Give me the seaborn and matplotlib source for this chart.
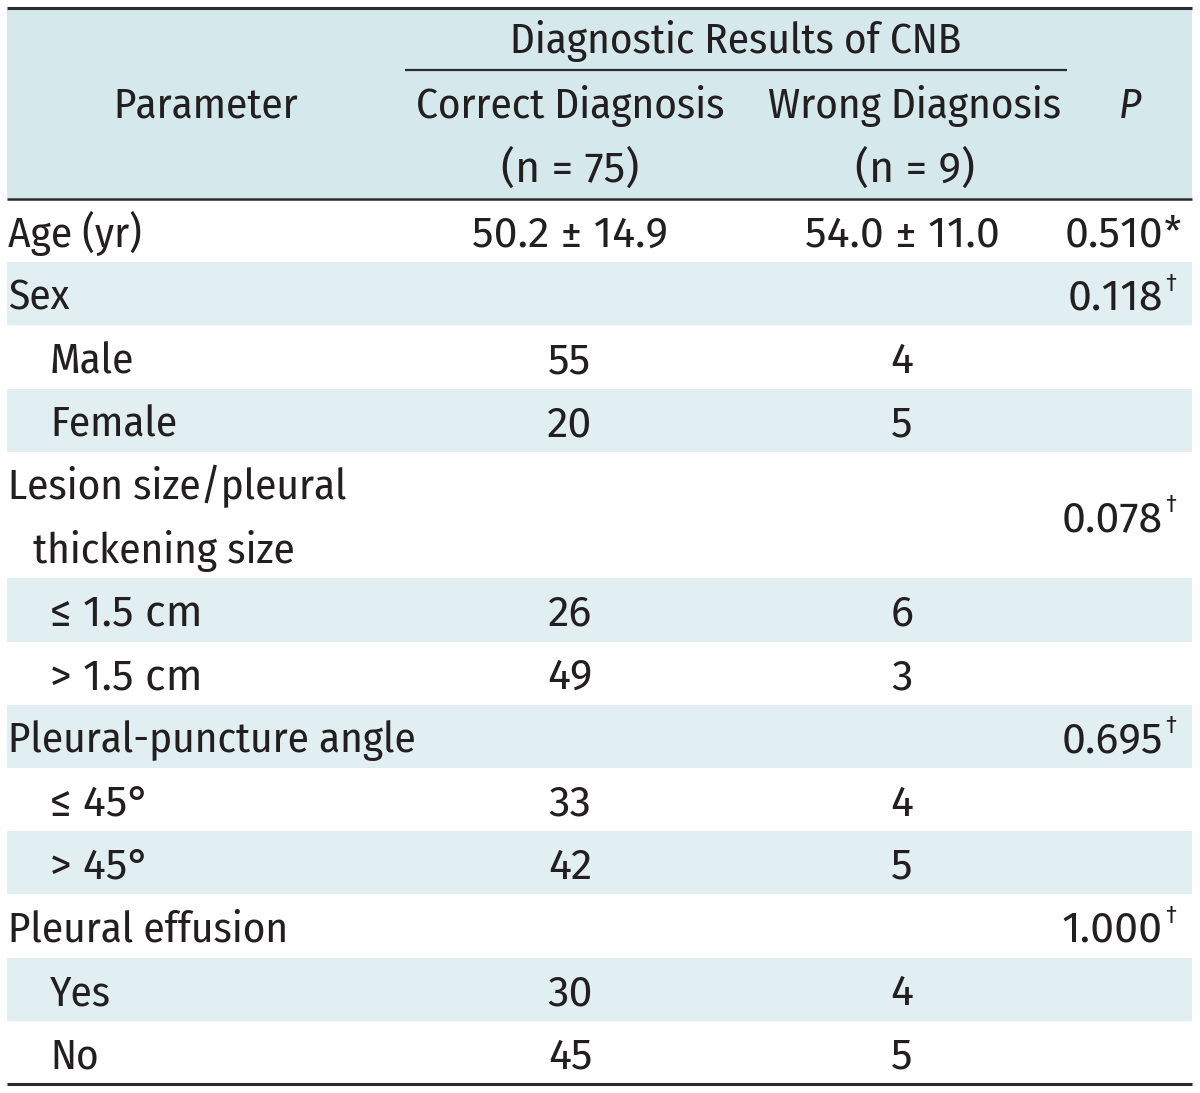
import matplotlib
matplotlib.use("Agg")
import matplotlib.pyplot as plt
import seaborn as sns
from matplotlib import font_manager

sns.set_theme(style="white")
names = {f.name for f in font_manager.fontManager.ttflist}
FONT = "DejaVu Sans"
for cand in ["Fira Sans Condensed", "PT Sans Narrow", "Encode Sans Condensed",
             "Asap Condensed", "Archivo Narrow"]:
    if cand in names:
        FONT = cand
        break
NUMFONT = "Fira Sans" if "Fira Sans" in names else FONT
plt.rcParams['font.family'] = [FONT, 'DejaVu Sans']
NUMFAM = [NUMFONT, 'DejaVu Sans']

# ---- data ----
parameters = ["Age (yr)", "Sex", "Male", "Female",
              "Lesion size/pleural\nthickening size",
              "\u2264 1.5 cm", "> 1.5 cm", "Pleural-puncture angle",
              "\u2264 45\u00b0", "> 45\u00b0", "Pleural effusion", "Yes", "No"]
indent = [0, 0, 1, 1, 0, 1, 1, 0, 1, 1, 0, 1, 1]
correct = ["50.2 \u00b1 14.9", "", "55", "20", "", "26", "49", "", "33", "42", "", "30", "45"]
wrong = ["54.0 \u00b1 11.0", "", "4", "5", "", "6", "3", "", "4", "5", "", "4", "5"]
p_values = ["0.510", "0.118", "", "", "0.078", "", "", "0.695", "", "", "1.000", "", ""]
p_marks = ["*", "\u2020", "", "", "\u2020", "", "", "\u2020", "", "", "\u2020", "", ""]
row_units = [1, 1, 1, 1, 2, 1, 1, 1, 1, 1, 1, 1, 1]

header_group = "Diagnostic Results of CNB"
header_cols = ["Correct Diagnosis", "Wrong Diagnosis"]
header_n = ["(n = 75)", "(n = 9)"]

# ---- layout ----
W, H = 1200, 1093
fig = plt.figure(figsize=(W / 100, H / 100), dpi=100)
ax = fig.add_axes([0, 0, 1, 1])
ax.set_xlim(0, W)
ax.set_ylim(H, 0)
ax.axis("off")

TXT = "#231f20"
HEAD_BG = "#d5e8ec"
ROW_BG = "#e1eff2"
LINE = "#2b2b2b"
FS = 31
X0, X1 = 7, 1192
top, head_bot, bottom = 8, 199, 1084
unit = (bottom - head_bot) / sum(row_units)

x_param, x_ind = 8, 50
x_c, x_w = 570, 902
x_p = 1163


def is_numeric_label(s):
    return any(ch.isdigit() for ch in s)


# header
ax.fill_between([X0, X1], 9, head_bot, color=HEAD_BG, lw=0)
ax.plot([X0, X1], [top, top], color=LINE, lw=2.2, solid_capstyle="butt")
ax.plot([X0, X1], [head_bot, head_bot], color=LINE, lw=1.8, solid_capstyle="butt")
ax.plot([X0, X1], [bottom, bottom], color=LINE, lw=2.2, solid_capstyle="butt")
ax.plot([405, 1067], [70, 70], color=LINE, lw=1.6, solid_capstyle="butt")

ax.text(736, 53, header_group, ha="center", va="baseline", fontsize=FS, color=TXT)
ax.text(206, 118, "Parameter", ha="center", va="baseline", fontsize=FS, color=TXT)
for xc, lab, n in zip([x_c, 915], header_cols, header_n):
    ax.text(xc, 118, lab, ha="center", va="baseline", fontsize=FS, color=TXT)
    ax.text(xc, 182, n, ha="center", va="baseline", fontsize=FS, color=TXT, family=NUMFAM)
ax.text(1130, 118, "P", ha="center", va="baseline", fontsize=FS, color=TXT, style="italic")

# rows
y = head_bot
for i, (par, ind, c, w, pv, pm, u) in enumerate(
        zip(parameters, indent, correct, wrong, p_values, p_marks, row_units)):
    y0, y1 = y, y + u * unit
    if i % 2 == 1:
        ax.fill_between([X0, X1], y0, y1, color=ROW_BG, lw=0)
    yc = (y0 + y1) / 2
    lines = par.split("\n")
    if len(lines) == 1:
        fam = NUMFAM if is_numeric_label(par) else None
        ax.text(x_ind if ind else x_param, yc + 16, par, ha="left", va="baseline",
                fontsize=FS, color=TXT, family=fam)
    else:
        for k, ln in enumerate(lines):
            ax.text(x_param + 25 * k, y0 + unit * (k + 0.5) + 16, ln, ha="left",
                    va="baseline", fontsize=FS, color=TXT)
    if c:
        ax.text(x_c, yc + 16, c, ha="center", va="baseline", fontsize=FS, color=TXT,
                family=NUMFAM)
    if w:
        ax.text(x_w, yc + 16, w, ha="center", va="baseline", fontsize=FS, color=TXT,
                family=NUMFAM)
    if pv:
        ax.text(x_p, yc + 16, pv, ha="right", va="baseline", fontsize=FS, color=TXT,
                family=NUMFAM)
        if pm == "*":
            ax.text(x_p + 1, yc + 16, pm, ha="left", va="baseline", fontsize=FS, color=TXT)
        else:
            ax.text(x_p + 2, yc - 3, pm, ha="left", va="baseline", fontsize=FS * 0.55, color=TXT)
    y = y1

fig.savefig("out.png", dpi=100)
